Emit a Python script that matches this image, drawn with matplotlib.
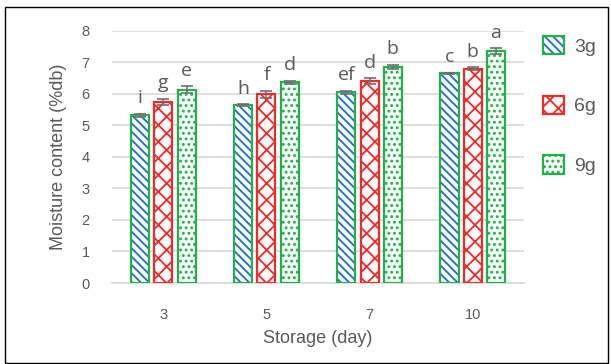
import numpy as np
import matplotlib.pyplot as plt
from matplotlib.patches import Patch, Rectangle
from matplotlib.legend_handler import HandlerTuple

plt.rcParams['font.family'] = ['Liberation Sans', 'DejaVu Sans']
plt.rcParams['hatch.linewidth'] = 1.3

days = ['3', '5', '7', '10']
doses = ['3g', '6g', '9g']
moisture_3g = [5.32, 5.63, 6.05, 6.64]
moisture_6g = [5.74, 5.98, 6.40, 6.79]
moisture_9g = [6.13, 6.36, 6.85, 7.35]
err_3g = [0.05, 0.03, 0.05, 0.03]
err_6g = [0.10, 0.12, 0.10, 0.05]
err_9g = [0.10, 0.05, 0.07, 0.10]
letters_3g = ['i', 'h', 'ef', 'c']
letters_6g = ['g', 'f', 'd', 'b']
letters_9g = ['e', 'd', 'b', 'a']

values = [moisture_3g, moisture_6g, moisture_9g]
errors = [err_3g, err_6g, err_9g]
letters = [letters_3g, letters_6g, letters_9g]
hatch_col = ['#1f6fc0', '#ee2a2a', '#22b04b']
edge_col = ['#22b04b', '#ee2a2a', '#22b04b']
hatches = ['\\\\\\\\', 'xx', '...']
txt = '#595959'

fig = plt.figure(figsize=(6.11, 3.64), dpi=100)
ax = fig.add_axes([0.183, 0.2225, 0.675, 0.6935])

x = np.arange(len(days))
w = 0.175
step = 0.225
for i in range(3):
    pos = x + (i - 1) * step
    # hatch layer (hatch colour follows edgecolor)
    ax.bar(pos, values[i], w, color='#f8fbfa', edgecolor=hatch_col[i],
           hatch=hatches[i], linewidth=0, zorder=2)
    # outline
    ax.bar(pos, values[i], w, fill=False, edgecolor=edge_col[i],
           linewidth=1.6, zorder=3)
    ax.errorbar(pos, values[i], yerr=errors[i], fmt='none', ecolor='#6f6f6f',
                elinewidth=1.2, capsize=4, capthick=1.2, zorder=4)
    for p, v, e, l in zip(pos, values[i], errors[i], letters[i]):
        ax.text(p, v + e + 0.2, l, ha='center', va='bottom', fontsize=14,
                color=txt, family=['Open Sans', 'DejaVu Sans'])

ax.set_ylim(0, 8)
ax.set_xlim(-0.5, 3.5)
ax.set_yticks(range(0, 9))
ax.set_xticks(x)
ax.set_xticklabels(days)
ax.yaxis.grid(True, color='#d9d9d9', linewidth=1.2, zorder=0)
ax.set_axisbelow(True)
for s in ['top', 'right', 'left']:
    ax.spines[s].set_visible(False)
ax.spines['bottom'].set_color('#d9d9d9')
ax.spines['bottom'].set_linewidth(1.2)
ax.tick_params(axis='both', length=0, labelsize=10.5, colors=txt)
ax.tick_params(axis='x', pad=18)
ax.tick_params(axis='y', pad=16)
ax.set_xlabel('Storage (day)', fontsize=13, color=txt, labelpad=6)
ax.set_ylabel('Moisture content (%db)', fontsize=13, color=txt, labelpad=10)

handles = []
for i in range(3):
    fill = Patch(facecolor='#f8fbfa', edgecolor=hatch_col[i], hatch=hatches[i], linewidth=0)
    outline = Patch(fill=False, edgecolor=edge_col[i], linewidth=1.6)
    handles.append((fill, outline))
leg = fig.legend(handles, doses, loc='upper left', bbox_to_anchor=(0.86, 0.95),
                 frameon=False, fontsize=14, labelspacing=2.05, handlelength=1.1,
                 handleheight=1.1, handletextpad=0.5, labelcolor=txt,
                 handler_map={tuple: HandlerTuple(ndivide=1, pad=0)})

fig.patches.append(Rectangle((5 / 611, 1 / 364), 603 / 611, 356 / 364,
                             transform=fig.transFigure, fill=False,
                             edgecolor='black', linewidth=1))

fig.savefig('out.png', dpi=100)
